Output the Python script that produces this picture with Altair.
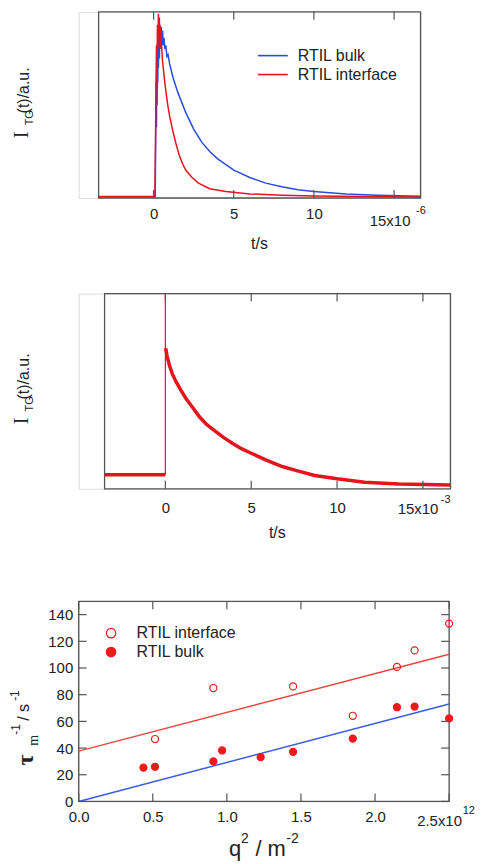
import altair as alt
import pandas as pd

BLUE = "#2a4de0"
RED = "#e4141c"
MRED = "#ee1a1a"
LRED = "#e8473f"
LBLUE = "#3a5ee0"
FRAME = "#555555"
TXT = "#222222"
SANS = "Liberation Sans"
SERIF = "Liberation Serif"

# ---------------- Panel 1 (time in 1e-6 s, intensity a.u. 0..1) ----------------
p1_bulk_t = [-3.43, 0.10, 0.13, 0.16, 0.18, 0.20, 0.22, 0.24, 0.26, 0.28, 0.30, 0.33, 0.36, 0.40,
             0.44, 0.48, 0.52, 0.56, 0.60, 0.65, 0.70, 0.76, 0.83, 0.90, 1.0, 1.2, 1.5, 2.0, 2.5,
             3.0, 3.5, 4.0, 5.0, 6.0, 7.0, 8.0, 9.0, 10.0, 12.0, 14.0, 16.65]
p1_bulk_v = [0.007, 0.007, 0.35, 0.62, 0.38, 0.70, 0.50, 0.78, 0.62, 0.84, 0.70, 0.90, 0.75, 0.93,
             0.80, 0.92, 0.82, 0.90, 0.82, 0.86, 0.80, 0.82, 0.76, 0.77, 0.72, 0.65, 0.57, 0.46, 0.37,
             0.30, 0.25, 0.21, 0.15, 0.11, 0.08, 0.06, 0.045, 0.035, 0.022, 0.015, 0.010]
p1_int_t = [-3.43, 0.08, 0.12, 0.15, 0.18, 0.21, 0.24, 0.27, 0.30, 0.33, 0.36, 0.39, 0.42, 0.46,
            0.50, 0.55, 0.60, 0.70, 0.80, 0.90, 1.0, 1.2, 1.4, 1.6, 1.8, 2.0, 2.4, 2.8, 3.5, 4.5,
            6.0, 8.0, 10.0, 13.0, 16.65]
p1_int_v = [0.008, 0.008, 0.30, 0.62, 0.82, 0.72, 0.93, 0.80, 0.99, 0.86, 0.97, 0.84, 0.92, 0.80,
            0.82, 0.74, 0.70, 0.62, 0.55, 0.49, 0.44, 0.36, 0.29, 0.23, 0.185, 0.15, 0.11, 0.08,
            0.05, 0.035, 0.022, 0.015, 0.011, 0.008, 0.006]
p1_series = ["RTIL bulk", "RTIL interface"]
p1_domain = [-3.43, 16.65]
p1_xticks = [0, 5, 10, 15]
p1_last_label = ["15x10"]
p1_last_exp = ["-6"]

# ---------------- Panel 2 (time in 1e-3 s) ----------------
p2_pre_t = [-3.54, 0.0]
p2_pre_v = [0.072, 0.072]
p2_spike_t = [0.0, 0.0]
p2_spike_v = [0.072, 1.2]
p2_decay_t = [0.02, 0.1, 0.23, 0.4, 0.62, 0.9, 1.2, 1.6, 1.97, 2.4, 2.94, 3.4, 3.9, 4.4, 5.0,
              5.84, 6.8, 7.8, 8.7, 10.0, 11.6, 13.6, 16.6]
p2_decay_v = [0.72, 0.68, 0.634, 0.59, 0.549, 0.505, 0.463, 0.415, 0.370, 0.33, 0.293, 0.262,
              0.233, 0.207, 0.182, 0.148, 0.114, 0.089, 0.068, 0.051, 0.034, 0.024, 0.019]
p2_domain = [-3.54, 16.6]
p2_xticks = [0, 5, 10, 15]
p2_last_label = ["15x10"]
p2_last_exp = ["-3"]

# ---------------- Panel 3 (q^2 in 1e12 m^-2, rate in s^-1) ----------------
p3_series = ["RTIL interface", "RTIL bulk"]
q_int = [0.515, 0.909, 1.447, 1.850, 2.148, 2.267, 2.5]
r_int = [46.8, 85.0, 86.2, 64.2, 100.8, 113.2, 133.3]
q_bulk = [0.437, 0.515, 0.909, 0.968, 1.228, 1.447, 1.850, 2.148, 2.267, 2.5]
r_bulk = [25.3, 26.0, 30.0, 38.2, 33.2, 37.2, 47.1, 70.6, 71.1, 62.2]
fit_q = [0.0, 2.5]
fit_int = [37.7, 110.3]
fit_bulk = [0.0, 73.1]
p3_xdomain = [0, 2.5]
p3_ydomain = [0, 150]
p3_xticks = [0, 0.5, 1.0, 1.5, 2.0, 2.5]
p3_yticks = [0, 20, 40, 60, 80, 100, 120, 140]
p3_last_label = ["2.5x10"]
p3_last_exp = ["12"]

ONE = pd.DataFrame({"a": [0]})
LEFT_REL = -70.5  # all plot origins share page x = 79


def anchors(bottom_rel, top_rel=-1.5):
    """invisible layout helpers (define the bounds of each panel)"""
    base = alt.Chart(ONE).mark_rule(opacity=0, strokeWidth=1)
    return [
        base.encode(x=alt.value(LEFT_REL), y=alt.value(20), y2=alt.value(21)),
        base.encode(x=alt.value(0), x2=alt.value(1), y=alt.value(top_rel)),
        base.encode(x=alt.value(0), x2=alt.value(1), y=alt.value(bottom_rel)),
    ]


def txt(text, x, y, size, font=SANS, angle=0, align="left", baseline="alphabetic", weight="normal"):
    kw = dict(text=text, fontSize=size, font=font, align=align, baseline=baseline,
              color=TXT, fontWeight=weight)
    if angle:
        kw["angle"] = angle
    return alt.Chart(ONE).mark_text(**kw).encode(x=alt.value(x), y=alt.value(y))


def frame(X, Y, xdom, ydom):
    f = pd.DataFrame({X.shorthand.split(":")[0]: [xdom[0]], "x2": [xdom[1]],
                      Y.shorthand.split(":")[0]: [ydom[0]], "y2": [ydom[1]]})
    return alt.Chart(f).mark_rect(fill="transparent", stroke=FRAME, strokeWidth=1.3).encode(
        x=X, x2="x2:Q", y=Y, y2="y2:Q")


def time_panel(W, H, x0, domain, xticks, pad, last_lab, last_exp, lab_dx, lab_dy, exp_dx, exp_dy,
               title_x, title_dy, ytitle_y, bottom_rel, top_rel, lines):
    X = alt.X("t:Q", scale=alt.Scale(domain=domain, range=[x0, W], nice=False, zero=False),
              axis=alt.Axis(values=xticks, labelExpr="datum.value == 15 ? '' : datum.label",
                            ticks=False, domain=False, grid=False, labelPadding=pad,
                            labelFontSize=15, labelFont=SANS, labelColor=TXT, title=None,
                            labelFlush=False, labelOverlap=False))
    Y = alt.Y("v:Q", scale=alt.Scale(domain=[0, 1], nice=False, zero=False), axis=None)
    tdf = pd.DataFrame({"t": xticks})
    ticks = [
        alt.Chart(tdf).mark_rule(color=FRAME, strokeWidth=1.2).encode(x=X, y=alt.value(H), y2=alt.value(H - 8)),
        alt.Chart(tdf).mark_rule(color=FRAME, strokeWidth=1.2).encode(x=X, y=alt.value(0), y2=alt.value(8)),
    ]
    ldf = pd.DataFrame({"t": [xticks[-1]], "lab": last_lab, "exp": last_exp})
    labs = [
        alt.Chart(ldf).mark_text(fontSize=15, font=SANS, color=TXT, align="center", baseline="middle",
                                 dx=lab_dx).encode(x=X, y=alt.value(H + lab_dy), text="lab:N"),
        alt.Chart(ldf).mark_text(fontSize=11, font=SANS, color=TXT, align="left", baseline="middle",
                                 dx=exp_dx).encode(x=X, y=alt.value(H + exp_dy), text="exp:N"),
    ]
    xt = txt("t/s", title_x, H + title_dy, 16, align="center", baseline="middle")
    yy1, yy2, yy3 = ytitle_y
    ytitle = [
        txt("I", -51, yy1, 20, font=SERIF, angle=270),
        txt("TG", -46, yy2, 11, angle=270),
        txt("(t)/a.u.", -49.5, yy3, 16, angle=270),
    ]
    layers = ([frame(X, Y, domain, [0, 1])] + lines(X, Y) + ticks + labs + [xt] + ytitle
              + anchors(bottom_rel, top_rel))
    return alt.layer(*layers).properties(width=W, height=H)


# ---- panel 1
def p1_lines(X, Y):
    bulk = pd.DataFrame({"t": p1_bulk_t, "v": p1_bulk_v, "series": p1_series[0]})
    inter = pd.DataFrame({"t": p1_int_t, "v": p1_int_v, "series": p1_series[1]})
    color = alt.Color("series:N", scale=alt.Scale(domain=p1_series, range=[BLUE, RED]),
                      legend=alt.Legend(title=None, orient="none", legendX=187, legendY=36,
                                        direction="vertical", symbolType="M-3,0H3", symbolSize=100,
                                        symbolStrokeWidth=1.6, labelFontSize=16, labelFont=SANS,
                                        labelColor=TXT, labelOffset=17, rowPadding=3, padding=0))
    return [
        alt.Chart(bulk).mark_line(strokeWidth=1.5, clip=True).encode(x=X, y=Y, color=color),
        alt.Chart(inter).mark_line(strokeWidth=1.5, clip=True).encode(x=X, y=Y, color=color),
    ]


W1, H1 = 343.3, 187
panel1 = time_panel(W1, H1, 20, p1_domain, p1_xticks, 9, p1_last_label, p1_last_exp,
                    -4, 23, 22, 13, 181.6, 46, (127, 114, 102), 270.3, 0, p1_lines)


# ---- panel 2
def p2_lines(X, Y):
    pre = pd.DataFrame({"t": p2_pre_t, "v": p2_pre_v})
    spike = pd.DataFrame({"t": p2_spike_t, "v": p2_spike_v})
    dec = pd.DataFrame({"t": p2_decay_t, "v": p2_decay_v})
    return [
        alt.Chart(pre).mark_line(color=RED, strokeWidth=3.5, clip=True).encode(x=X, y=Y),
        alt.Chart(spike).mark_line(color=RED, strokeWidth=1.2, clip=True).encode(x=X, y=Y),
        alt.Chart(dec).mark_line(color=RED, strokeWidth=3.5, clip=True).encode(x=X, y=Y),
    ]


W2, H2 = 373.3, 196
panel2 = time_panel(W2, H2, 26, p2_domain, p2_xticks, 12, p2_last_label, p2_last_exp,
                    -5, 20.7, 18, 11.7, 199.5, 44.5, (131.3, 118.3, 106.3), 295.7, -1.5, p2_lines)

# ---- panel 3
W3, H3 = 372, 201
SX3 = alt.Scale(domain=p3_xdomain, nice=False, zero=False)
SY3 = alt.Scale(domain=p3_ydomain, nice=False, zero=False)
X3 = alt.X("q:Q", scale=SX3,
           axis=alt.Axis(values=p3_xticks,
                         labelExpr="datum.value >= 2.5 ? '' : format(datum.value, '.1f')",
                         ticks=False, domain=False, grid=False, labelPadding=8.5, labelFontSize=15,
                         labelFont=SANS, labelColor=TXT, title=None, labelFlush=False,
                         labelOverlap=False))
Y3 = alt.Y("r:Q", scale=SY3,
           axis=alt.Axis(values=p3_yticks, format="d", ticks=False, domain=False, grid=False,
                         labelPadding=6, labelFontSize=15, labelFont=SANS, labelColor=TXT,
                         title=None, labelFlush=False, labelOverlap=False))

fit_i = pd.DataFrame({"q": fit_q, "r": fit_int})
fit_b = pd.DataFrame({"q": fit_q, "r": fit_bulk})
pts = pd.concat([
    pd.DataFrame({"q": q_int, "r": r_int, "series": p3_series[0]}),
    pd.DataFrame({"q": q_bulk, "r": r_bulk, "series": p3_series[1]}),
])
fill = alt.Fill("series:N", scale=alt.Scale(domain=p3_series, range=["transparent", MRED]),
                legend=alt.Legend(title=None, orient="none", legendX=24.5, legendY=24,
                                  direction="vertical", symbolType="circle", symbolSize=90,
                                  symbolStrokeColor=MRED, symbolStrokeWidth=1.2, labelFontSize=16,
                                  labelFont=SANS, labelColor=TXT, labelOffset=17.5, rowPadding=3,
                                  padding=0))
xt3 = pd.DataFrame({"q": p3_xticks})
yt3 = pd.DataFrame({"r": p3_yticks})
l3 = pd.DataFrame({"q": [p3_xticks[-1]], "lab": p3_last_label, "exp": p3_last_exp})
tick_style = dict(color=FRAME, strokeWidth=1.2)
p3_layers = [
    frame(X3, Y3, p3_xdomain, p3_ydomain),
    alt.Chart(fit_i).mark_line(color=LRED, strokeWidth=1.5).encode(x=X3, y=Y3),
    alt.Chart(fit_b).mark_line(color=LBLUE, strokeWidth=1.5).encode(x=X3, y=Y3),
    alt.Chart(pts).mark_point(filled=True, stroke=MRED, strokeWidth=1.2, size=50, opacity=1).encode(x=X3, y=Y3, fill=fill),
    alt.Chart(xt3).mark_rule(**tick_style).encode(x=X3, y=alt.value(H3), y2=alt.value(H3 - 8)),
    alt.Chart(xt3).mark_rule(**tick_style).encode(x=X3, y=alt.value(0), y2=alt.value(8)),
    alt.Chart(yt3).mark_rule(**tick_style).encode(y=Y3, x=alt.value(0), x2=alt.value(8)),
    alt.Chart(yt3).mark_rule(**tick_style).encode(y=Y3, x=alt.value(W3), x2=alt.value(W3 - 8)),
    alt.Chart(l3).mark_text(fontSize=15, font=SANS, color=TXT, align="center", baseline="middle",
                            dx=-9.6).encode(x=X3, y=alt.value(H3 + 20), text="lab:N"),
    alt.Chart(l3).mark_text(fontSize=11, font=SANS, color=TXT, align="left", baseline="middle",
                            dx=13.7).encode(x=X3, y=alt.value(H3 + 9.2), text="exp:N"),
    # x title  q^2 / m^-2
    txt("q", 151, 256, 22),
    txt("2", 163, 243, 14),
    txt("/ m", 177.5, 256, 22),
    txt("-2", 208.5, 243, 14),
    # y title  tau_m^-1 / s^-1
    txt("τ", -46, 165, 24, font=SERIF, angle=270, weight="bold"),
    txt("m", -40.5, 145, 14, font=SERIF, angle=270),
    txt("-1", -59, 134, 12, angle=270),
    txt("/ s", -50, 120, 16, angle=270),
    txt("-1", -60, 100, 12, angle=270),
] + anchors(262)
panel3 = alt.layer(*p3_layers).properties(width=W3, height=H3)

chart = (
    alt.vconcat(panel1, panel2, panel3, spacing=10)
    .properties(padding=0)
    .resolve_scale(color="independent", fill="independent")
    .configure_view(stroke=None)
    .configure(background="white")
)

chart.save("out.html", embed_options={"renderer": "svg", "actions": False})
